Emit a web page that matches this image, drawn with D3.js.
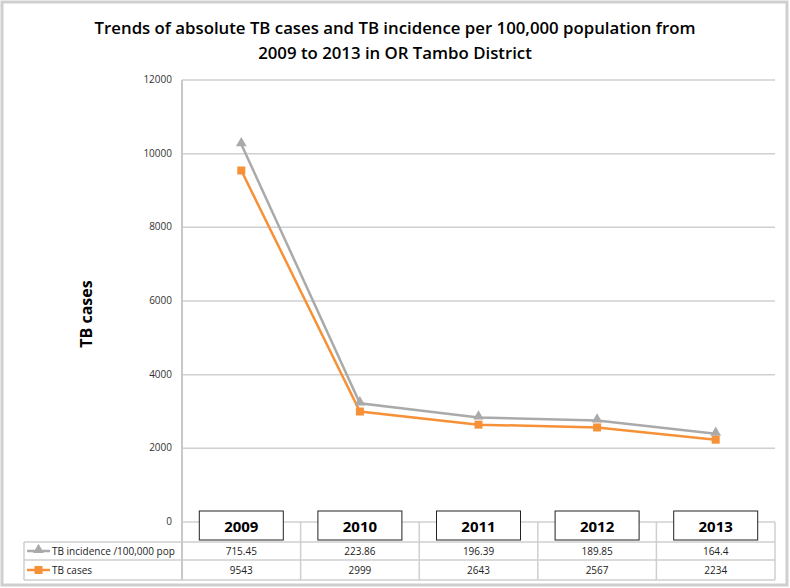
<!DOCTYPE html>
<html>
<head>
<meta charset="utf-8">
<style>
body { margin: 0; background: #fff; }
text { font-family: "Open Sans", sans-serif; }
.grid line { stroke: #d0d0d0; stroke-width: 1.5; }
.tick-label { font-size: 10px; fill: #333; }
.cell { font-size: 10px; fill: #222; text-anchor: middle; }
</style>
</head>
<body>
<svg id="chart" width="790" height="588"></svg>
<script src="https://cdn.jsdelivr.net/npm/d3@7"></script>
<script>
var years = ["2009", "2010", "2011", "2012", "2013"];
var tbCases = [9543, 2999, 2643, 2567, 2234];
var tbIncidence = [715.45, 223.86, 196.39, 189.85, 164.4];
var yTicks = [0, 2000, 4000, 6000, 8000, 10000, 12000];
var seriesNames = ["TB incidence /100,000 pop", "TB cases"];

var svg = d3.select("#chart");
var plotLeft = 182, plotRight = 775, plotTop = 80, zeroY = 522;

// outer frame
svg.append("rect")
    .attr("x", 2).attr("y", 2).attr("width", 785).attr("height", 583)
    .attr("fill", "none").attr("stroke", "#cfcfcf").attr("stroke-width", 3);

var x = d3.scaleBand().domain(years).range([plotLeft, plotRight]);
var y = d3.scaleLinear().domain([0, 12000]).range([zeroY, plotTop]);

// gridlines
var grid = svg.append("g").attr("class", "grid");
grid.selectAll("line").data(yTicks).enter().append("line")
    .attr("x1", plotLeft).attr("x2", plotRight)
    .attr("y1", function(d) { return y(d); })
    .attr("y2", function(d) { return y(d); });

svg.selectAll(".tick-label").data(yTicks).enter().append("text")
    .attr("class", "tick-label")
    .attr("x", 172)
    .attr("y", function(d) { return y(d) + 3; })
    .attr("text-anchor", "end")
    .text(function(d) { return d; });

// table grid
var rowTop = 542, rowMid = 560, rowBot = 580;
var tg = svg.append("g").attr("stroke", "#cfcfcf").attr("stroke-width", 1.5);
[rowTop, rowMid, rowBot].forEach(function(r) {
  tg.append("line").attr("x1", 24).attr("x2", plotRight).attr("y1", r).attr("y2", r);
});
tg.append("line").attr("x1", 24).attr("x2", 24).attr("y1", rowTop).attr("y2", rowBot);
tg.selectAll(".vsep").data(years).enter().append("line")
    .attr("x1", function(d) { return x(d) + x.bandwidth(); })
    .attr("x2", function(d) { return x(d) + x.bandwidth(); })
    .attr("y1", zeroY).attr("y2", rowBot);

// y axis line
svg.append("line")
    .attr("x1", plotLeft).attr("x2", plotLeft).attr("y1", plotTop).attr("y2", rowBot)
    .attr("stroke", "#c8c8c8").attr("stroke-width", 2);

// stacked values (grey line sits on top of cases)
var stacked = tbCases.map(function(d, i) { return d + tbIncidence[i]; });
var cx = function(i) { return x(years[i]) + x.bandwidth() / 2; };
var line = d3.line().x(function(d, i) { return cx(i); }).y(function(d) { return y(d); });

svg.append("path").datum(stacked)
    .attr("d", line).attr("fill", "none")
    .attr("stroke", "#aaaaaa").attr("stroke-width", 2.5);
svg.append("path").datum(tbCases)
    .attr("d", line).attr("fill", "none")
    .attr("stroke", "#f79138").attr("stroke-width", 2.5);

var tri = d3.symbol().type(d3.symbolTriangle).size(50);
svg.selectAll(".tri").data(stacked).enter().append("path")
    .attr("d", tri)
    .attr("transform", function(d, i) { return "translate(" + cx(i) + "," + (y(d) - 1) + ")"; })
    .attr("fill", "#aaaaaa");
svg.selectAll(".sq").data(tbCases).enter().append("rect")
    .attr("x", function(d, i) { return cx(i) - 4; })
    .attr("y", function(d) { return y(d) - 4; })
    .attr("width", 8).attr("height", 8)
    .attr("fill", "#f79138");

// year boxes
var box = svg.selectAll(".yr").data(years).enter().append("g");
box.append("rect")
    .attr("x", function(d) { return x(d) + x.bandwidth() / 2 - 42; })
    .attr("y", 511).attr("width", 84).attr("height", 29)
    .attr("fill", "#fff").attr("stroke", "#222").attr("stroke-width", 1);
box.append("text")
    .attr("x", function(d) { return x(d) + x.bandwidth() / 2; })
    .attr("y", 532)
    .attr("text-anchor", "middle")
    .style("font-size", "15px").style("font-weight", "bold")
    .text(function(d) { return d; });

// table values
svg.selectAll(".inc").data(tbIncidence).enter().append("text")
    .attr("class", "cell")
    .attr("x", function(d, i) { return cx(i); }).attr("y", 555)
    .text(function(d) { return d; });
svg.selectAll(".cas").data(tbCases).enter().append("text")
    .attr("class", "cell")
    .attr("x", function(d, i) { return cx(i); }).attr("y", 574)
    .text(function(d) { return d; });

// legend keys in first column
svg.append("line").attr("x1", 27).attr("x2", 50).attr("y1", 551).attr("y2", 551)
    .attr("stroke", "#aaaaaa").attr("stroke-width", 2.5);
svg.append("path").attr("d", tri).attr("transform", "translate(38.5,550)").attr("fill", "#aaaaaa");
svg.append("line").attr("x1", 27).attr("x2", 50).attr("y1", 570).attr("y2", 570)
    .attr("stroke", "#f79138").attr("stroke-width", 2.5);
svg.append("rect").attr("x", 34.5).attr("y", 566).attr("width", 8).attr("height", 8).attr("fill", "#f79138");
svg.selectAll(".lg").data(seriesNames).enter().append("text")
    .attr("x", 52).attr("y", function(d, i) { return i === 0 ? 555 : 574; })
    .style("font-size", "10px").style("fill", "#222")
    .text(function(d) { return d; });

// axis title
svg.append("text")
    .attr("transform", "translate(92,314) rotate(-90)")
    .attr("text-anchor", "middle")
    .style("font-size", "16px").style("font-weight", "bold")
    .text("TB cases");

// chart title
var title = ["Trends of absolute TB cases and TB incidence per 100,000 population from",
             "2009 to 2013 in OR Tambo District"];
svg.selectAll(".title").data(title).enter().append("text")
    .attr("x", 395).attr("y", function(d, i) { return 34 + i * 25; })
    .attr("text-anchor", "middle")
    .style("font-size", "16.8px").style("font-weight", "600")
    .text(function(d) { return d; });
</script>
</body>
</html>
